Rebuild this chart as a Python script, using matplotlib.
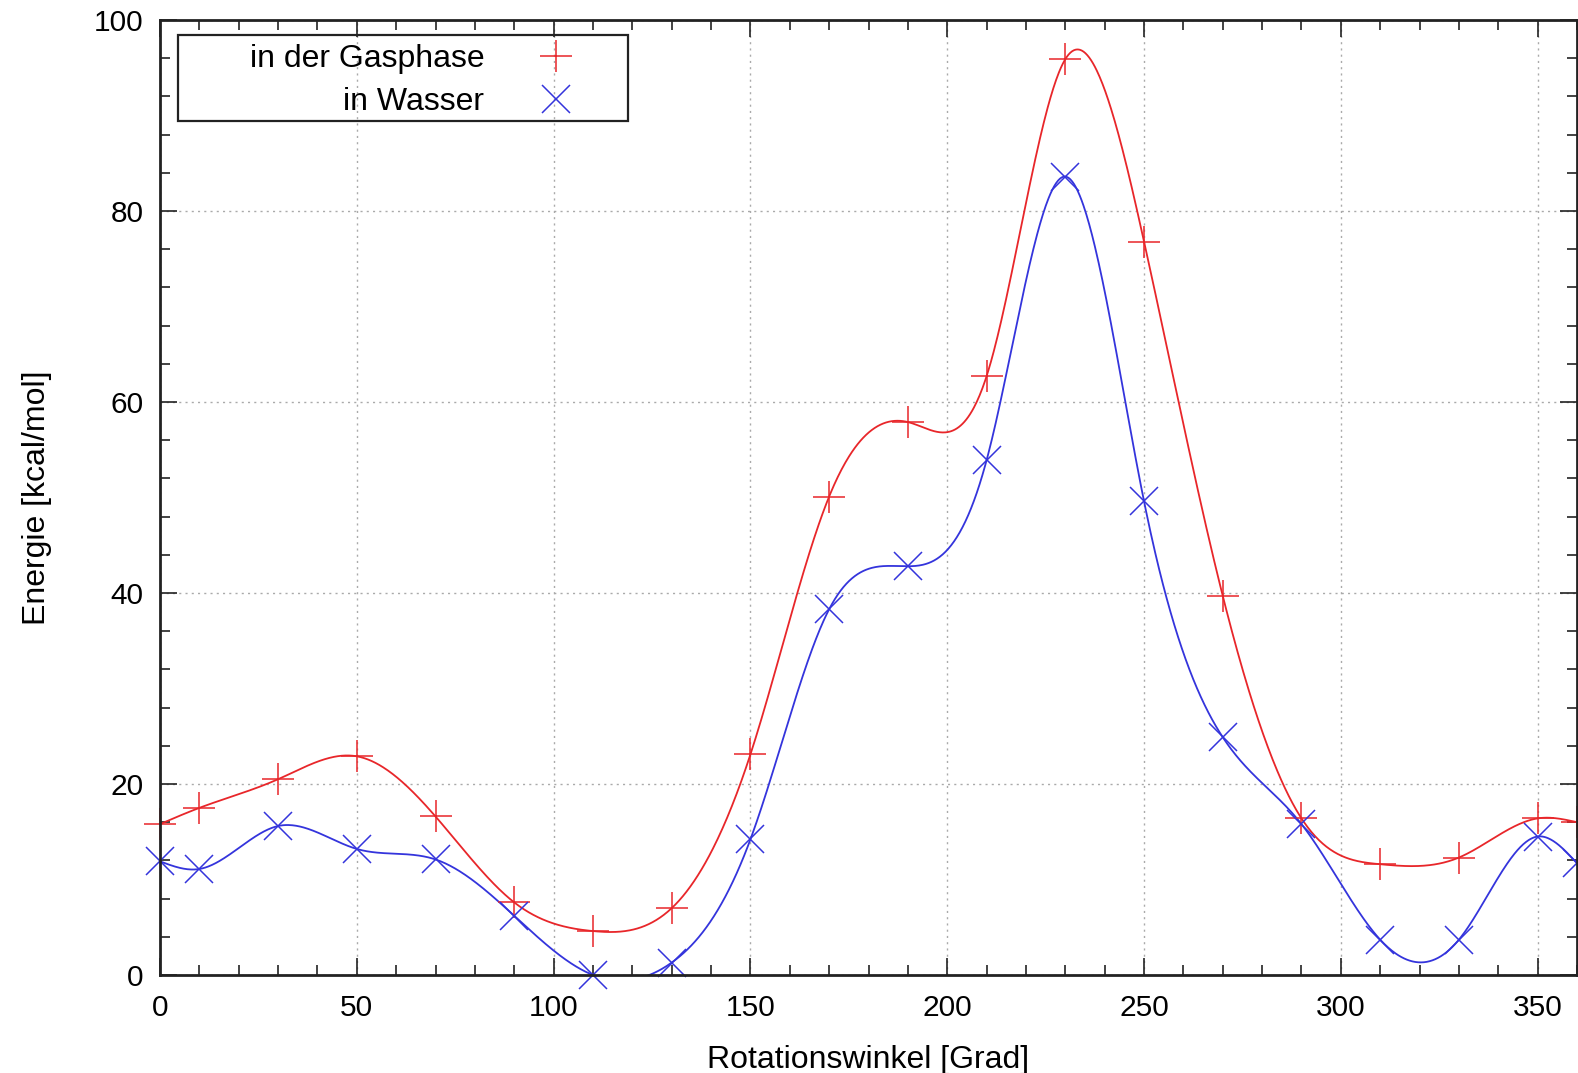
import numpy as np
import matplotlib
matplotlib.use("Agg")
import matplotlib.pyplot as plt
from matplotlib.patches import Rectangle

plt.rcParams['font.family'] = ['Liberation Sans', 'DejaVu Sans']

# Rotationswinkel in Grad
winkel = [0, 10, 30, 50, 70, 90, 110, 130, 150, 170, 190, 210, 230, 250, 270, 290, 310, 330, 350, 360]
# Energie in der Gasphase [kcal/mol]
gas = [15.8, 17.5, 20.5, 22.9, 16.6, 7.6, 4.6, 7.0, 23.1, 50.1, 57.9, 62.7, 95.9, 76.8, 39.7, 16.4, 11.6, 12.3, 16.4, 16.0]
# Energie in Wasser [kcal/mol]
wasser = [11.9, 11.1, 15.6, 13.2, 12.1, 6.2, 0.0, 1.3, 14.2, 38.3, 42.8, 53.9, 83.6, 49.6, 24.9, 15.8, 3.7, 3.7, 14.5, 11.7]

xticks = [0, 50, 100, 150, 200, 250, 300, 350]
yticks = [0, 20, 40, 60, 80, 100]


def csplines(x, y, xs):
    # natuerlicher kubischer Spline (wie gnuplot "smooth csplines")
    x = np.asarray(x, float)
    y = np.asarray(y, float)
    n = len(x)
    h = np.diff(x)
    A = np.zeros((n, n))
    r = np.zeros(n)
    A[0, 0] = 1
    A[-1, -1] = 1
    for i in range(1, n - 1):
        A[i, i - 1] = h[i - 1]
        A[i, i] = 2 * (h[i - 1] + h[i])
        A[i, i + 1] = h[i]
        r[i] = 3 * ((y[i + 1] - y[i]) / h[i] - (y[i] - y[i - 1]) / h[i - 1])
    c = np.linalg.solve(A, r)
    b = (y[1:] - y[:-1]) / h - h * (2 * c[:-1] + c[1:]) / 3
    d = (c[1:] - c[:-1]) / (3 * h)
    k = np.clip(np.searchsorted(x, xs) - 1, 0, n - 2)
    t = xs - x[k]
    return y[k] + b[k] * t + c[k] * t ** 2 + d[k] * t ** 3


rot = '#e8262a'
blau = '#3434dc'
fs_tick = 21.5
fs_lab = 23

fig = plt.figure(figsize=(15.78, 10.73), dpi=100)
ax = fig.add_axes([160 / 1578, 98 / 1073, 1417 / 1578, 955 / 1073])

xs = np.linspace(winkel[0], winkel[-1], 1500)
ax.plot(xs, csplines(winkel, gas, xs), color=rot, lw=1.3)
ax.plot(xs, csplines(winkel, wasser, xs), color=blau, lw=1.3)
ax.plot(winkel, gas, ls='none', marker='+', ms=23, mew=1.1, color=rot,
        clip_on=False, label='in der Gasphase')
ax.plot(winkel, wasser, ls='none', marker='x', ms=20, mew=1.1, color=blau,
        clip_on=False, label='in Wasser')

ax.set_xlim(0, 360)
ax.set_ylim(0, 100)
ax.set_xticks(xticks)
ax.set_yticks(yticks)
ax.set_xticks(np.arange(0, 361, 10), minor=True)
ax.set_yticks(np.arange(0, 101, 4), minor=True)
ax.tick_params(which='both', direction='in', top=True, right=True, width=1.2, color='#222222')
ax.tick_params(which='major', length=12, labelsize=fs_tick, pad=14)
ax.tick_params(axis='y', which='major', pad=12)
ax.tick_params(which='minor', length=7)
for s in ax.spines.values():
    s.set_linewidth(2)
    s.set_color('#222222')
ax.grid(True, which='major', ls=(0, (1.5, 3)), color='#aaaaaa', lw=1)

ax.set_xlabel('Rotationswinkel [Grad]', fontsize=fs_lab, labelpad=16)
ax.set_ylabel('Energie [kcal/mol]', fontsize=fs_lab, labelpad=30)

leg = ax.legend(loc='center', bbox_to_anchor=(0.1828, 0.9366), markerfirst=False,
                frameon=False, fontsize=fs_lab, handlelength=2.0, handletextpad=1.25,
                labelspacing=0.42, borderpad=0.2)
ax.add_patch(Rectangle((0.0127, 0.894), 0.3173, 0.0903, transform=ax.transAxes,
                       fill=False, lw=1.6, ec='#222222', zorder=5))

fig.savefig('out.png', dpi=100)
